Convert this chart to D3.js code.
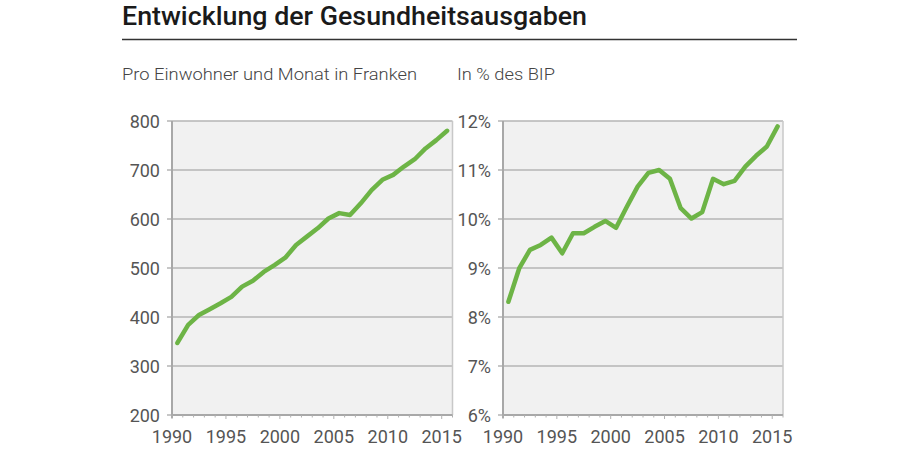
<!DOCTYPE html>
<html><head><meta charset="utf-8">
<script src="https://cdn.jsdelivr.net/npm/d3@7"></script>
<style>body{margin:0;background:#fff;} svg{display:block;}</style>
</head><body>
<svg id="c" width="900" height="450"></svg>
<script>
const years = d3.range(1990, 2016);
const perCapita = [347,384,404,416,428,441,462,474,492,506,521,547,564,581,601,612,608,632,659,680,690,707,722,744,761,780];
const pctGDP = [8.31,8.99,9.37,9.47,9.62,9.30,9.71,9.71,9.84,9.96,9.82,10.25,10.66,10.94,11.0,10.82,10.22,10.01,10.14,10.82,10.71,10.78,11.07,11.29,11.48,11.89];
const leftTicks = [200,300,400,500,600,700,800];
const rightTicks = [6,7,8,9,10,11,12];
const xTicks = [1990,1995,2000,2005,2010,2015];
const title = "Entwicklung der Gesundheitsausgaben";
const subLeft = "Pro Einwohner und Monat in Franken";
const subRight = "In % des BIP";

const svg = d3.select("#c");
const font = "Roboto, 'Open Sans', sans-serif";

function fitText(sel, w){ sel.attr("textLength", w).attr("lengthAdjust","spacingAndGlyphs"); }

svg.append("text").attr("x",122).attr("y",25).attr("font-family",font).attr("font-weight",500)
  .attr("font-size",26).attr("fill","#1a1a1a").text(title).call(fitText,465);
svg.append("line").attr("x1",122).attr("x2",797).attr("y1",39.5).attr("y2",39.5).attr("stroke","#333").attr("stroke-width",1.5);
svg.append("text").attr("x",122).attr("y",80).attr("font-family",font).attr("font-weight",300)
  .attr("font-size",17).attr("fill","#444").text(subLeft).call(fitText,295);
svg.append("text").attr("x",457).attr("y",80).attr("font-family",font).attr("font-weight",300)
  .attr("font-size",17).attr("fill","#444").text(subRight).call(fitText,98);

function panel(x0, x1, yDomain, ticks, values, fmt){
  const top = 121, bottom = 415;
  const x = d3.scaleLinear().domain([1990, 2016]).range([x0, x1]);
  const y = d3.scaleLinear().domain(yDomain).range([bottom, top]);
  const g = svg.append("g");
  g.append("rect").attr("x",x0).attr("y",top).attr("width",x1-x0).attr("height",bottom-top).attr("fill","#f1f1f1");
  // gridlines
  g.selectAll(".grid").data(ticks).join("line")
    .attr("x1",x0-5).attr("x2",x1).attr("y1",d=>y(d)).attr("y2",d=>y(d))
    .attr("stroke","#b4b4b4").attr("stroke-width",1.5);
  // right border
  g.append("line").attr("x1",x1).attr("x2",x1).attr("y1",top).attr("y2",bottom).attr("stroke","#c8c8c8").attr("stroke-width",1.5);
  // left axis
  g.append("line").attr("x1",x0).attr("x2",x0).attr("y1",top).attr("y2",bottom+3).attr("stroke","#a8a8a8").attr("stroke-width",2);
  // x axis
  g.append("line").attr("x1",x0).attr("x2",x1).attr("y1",bottom).attr("y2",bottom).attr("stroke","#a8a8a8").attr("stroke-width",2);
  g.selectAll(".mt").data(d3.range(1990,2017)).join("line")
    .attr("x1",d=>x(d)).attr("x2",d=>x(d)).attr("y1",bottom).attr("y2",d=>bottom+(d%5===0?4:2.5))
    .attr("stroke","#b0b0b0").attr("stroke-width",1);
  // y labels
  g.selectAll(".yl").data(ticks).join("text")
    .attr("x",x0-12).attr("y",d=>y(d)+6.5).attr("text-anchor","end")
    .attr("font-family",font).attr("font-size",18).attr("fill","#555").text(fmt);
  // x labels
  g.selectAll(".xl").data(xTicks).join("text")
    .attr("x",d=>x(d)).attr("y",443).attr("text-anchor","middle")
    .attr("font-family",font).attr("font-size",18).attr("fill","#555").text(d=>d);
  // line
  const line = d3.line().x((d,i)=>x(years[i]+0.5)).y(d=>y(d));
  g.append("path").datum(values).attr("d",line).attr("fill","none")
    .attr("stroke","#6db446").attr("stroke-width",4.5).attr("stroke-linejoin","round").attr("stroke-linecap","round");
}

panel(172, 452.5, [200,800], leftTicks, perCapita, d=>d);
panel(503, 783, [6,12], rightTicks, pctGDP, d=>d+"%");
</script>
</body></html>
